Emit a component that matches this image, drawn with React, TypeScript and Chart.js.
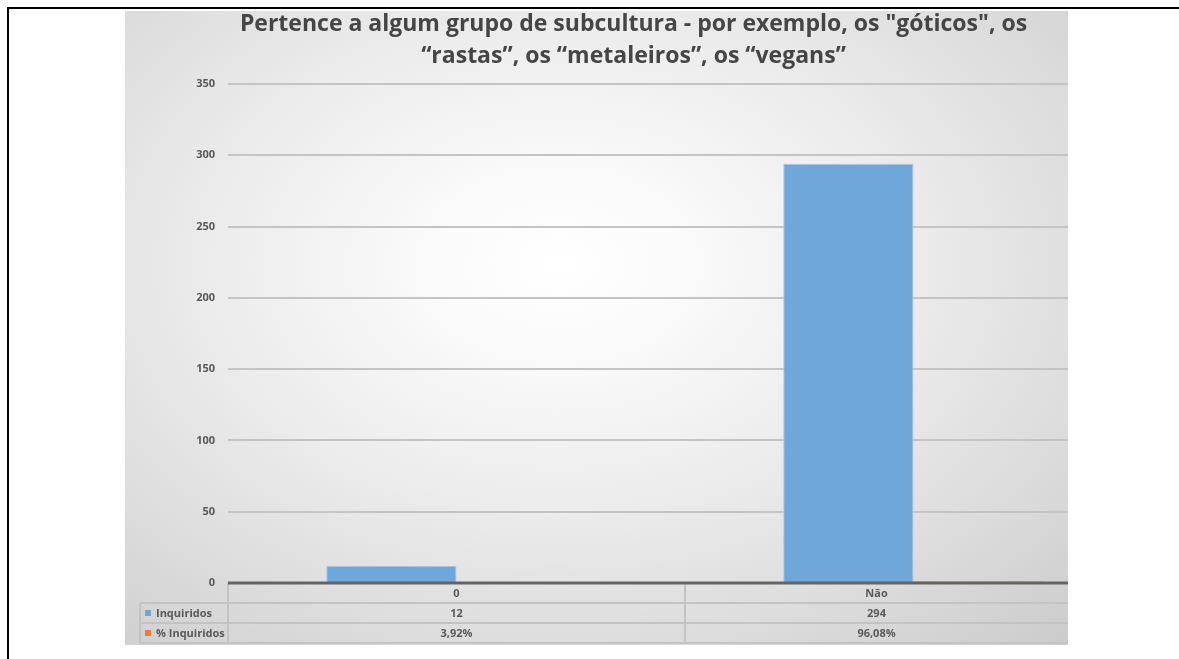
import React, { useEffect, useRef } from 'react';
import { Chart, registerables } from 'chart.js';

Chart.register(...registerables);

const titleLines = [
  'Pertence a algum grupo de subcultura - por exemplo, os "góticos", os',
  '“rastas”, os “metaleiros”, os “vegans”',
];
const categories = ['0', 'Não'];
const seriesNames = ['Inquiridos', '% Inquiridos'];
const inquiridos = [12, 294];
const percentInquiridos = [3.92, 96.08];
const seriesColors = ['#70a7da', '#ed7d31'];
const yMin = 0;
const yMax = 350;
const yStep = 50;

const FONT = '"Open Sans", Lato, sans-serif';
const TEXT = '#595959';
const CANVAS_W = 1030;
const CANVAS_H = 634;
const VISIBLE_W = 943;

const fmtPct = (v: number) => v.toFixed(2).replace('.', ',') + '%';

const tablePlugin = {
  id: 'dataTable',
  afterDraw(chart: any, _args: any, opts: any) {
    const { ctx, chartArea } = chart;
    const n = categories.length;
    const rowH = opts.rowHeight;
    const top = chartArea.bottom;
    const left = chartArea.left;
    const right = chartArea.right;
    const colW = (right - left) / n;
    const labelLeft = opts.labelLeft;
    const visRight = opts.visibleRight;

    ctx.save();
    ctx.strokeStyle = '#c3c3c3';
    ctx.lineWidth = 2;
    ctx.beginPath();
    for (let r = 1; r <= 3; r++) {
      const y = top + r * rowH;
      ctx.moveTo(labelLeft, y);
      ctx.lineTo(right, y);
    }
    ctx.moveTo(labelLeft, top + rowH);
    ctx.lineTo(labelLeft, top + 3 * rowH);
    for (let i = 0; i <= n; i++) {
      const x = left + i * colW;
      ctx.moveTo(x, top);
      ctx.lineTo(x, top + 3 * rowH);
    }
    ctx.stroke();

    // category axis line, drawn over the bars
    ctx.strokeStyle = '#646464';
    ctx.lineWidth = 3;
    ctx.beginPath();
    ctx.moveTo(left, top);
    ctx.lineTo(right, top);
    ctx.stroke();

    ctx.fillStyle = TEXT;
    ctx.font = `bold 11px ${FONT}`;
    ctx.textBaseline = 'middle';
    ctx.textAlign = 'center';
    const rows = [
      categories,
      inquiridos.map((v) => String(v)),
      percentInquiridos.map(fmtPct),
    ];
    for (let i = 0; i < n; i++) {
      const cl = left + i * colW;
      const cr = Math.min(cl + colW, visRight);
      const cx = (cl + cr) / 2;
      rows.forEach((row, r) => {
        ctx.fillText(row[i], cx, top + r * rowH + rowH / 2 + 1);
      });
    }
    ctx.textAlign = 'left';
    seriesNames.forEach((name, k) => {
      const cy = top + (k + 1) * rowH + rowH / 2;
      ctx.fillStyle = seriesColors[k];
      ctx.fillRect(labelLeft + 5, cy - 3, 6, 6);
      ctx.fillStyle = TEXT;
      ctx.fillText(name, labelLeft + 16, cy + 1);
    });
    ctx.restore();
  },
};

export default function App() {
  const ref = useRef<HTMLCanvasElement | null>(null);

  useEffect(() => {
    if (!ref.current) return;
    const chart = new Chart(ref.current, {
      type: 'bar',
      data: {
        labels: categories,
        datasets: [
          {
            label: seriesNames[0],
            data: inquiridos,
            backgroundColor: seriesColors[0],
            borderColor: '#a2c5e7',
            borderWidth: 1,
            categoryPercentage: 0.57,
            barPercentage: 1,
          },
          {
            label: seriesNames[1],
            data: percentInquiridos.map((v) => v / 100),
            backgroundColor: seriesColors[1],
            borderWidth: 0,
            categoryPercentage: 0.57,
            barPercentage: 1,
          },
        ],
      },
      options: {
        responsive: false,
        animation: false,
        devicePixelRatio: 1,
        layout: { padding: { left: 0, right: 13, top: 0, bottom: 62 } },
        plugins: {
          legend: { display: false },
          tooltip: { enabled: false },
          title: {
            display: true,
            text: titleLines,
            color: '#454545',
            font: { family: FONT, size: 23, weight: 'bold', lineHeight: 1.39 },
            padding: { top: -3, bottom: 12 },
          },
          dataTable: { rowHeight: 20, labelLeft: 15, visibleRight: VISIBLE_W },
        } as any,
        scales: {
          x: {
            ticks: { display: false },
            grid: { display: false },
            border: { display: false },
            afterFit: (s: any) => {
              s.height = 0;
            },
          },
          y: {
            min: yMin,
            max: yMax,
            ticks: {
              stepSize: yStep,
              color: TEXT,
              padding: 13,
              font: { family: FONT, size: 11, weight: 'bold' },
            },
            grid: { color: '#c4c4c4', lineWidth: 2, drawTicks: false },
            border: { display: false },
            afterFit: (s: any) => {
              s.width = 103;
            },
          },
        },
      },
      plugins: [tablePlugin],
    });
    return () => chart.destroy();
  }, []);

  return (
    <div style={{ position: 'absolute', left: 0, top: 0, width: 1179, height: 659, overflow: 'hidden', background: '#fff' }}>
      <div
        style={{
          position: 'absolute',
          left: 7,
          top: 7,
          width: 1172,
          height: 652,
          borderTop: '2px solid #000',
          borderLeft: '2px solid #000',
          boxSizing: 'border-box',
        }}
      />
      <div
        style={{
          position: 'absolute',
          left: 125,
          top: 11,
          width: VISIBLE_W,
          height: CANVAS_H,
          overflow: 'hidden',
        }}
      >
        <div
          style={{
            position: 'absolute',
            left: 0,
            top: 0,
            width: CANVAS_W,
            height: CANVAS_H,
            background:
              'radial-gradient(ellipse 75% 85% at 42% 40%, #ffffff 0%, #fbfbfb 15%, #ececec 45%, #dadada 75%, #c9c9c9 100%)',
          }}
        >
          <canvas ref={ref} width={CANVAS_W} height={CANVAS_H} style={{ display: 'block' }} />
        </div>
      </div>
    </div>
  );
}
